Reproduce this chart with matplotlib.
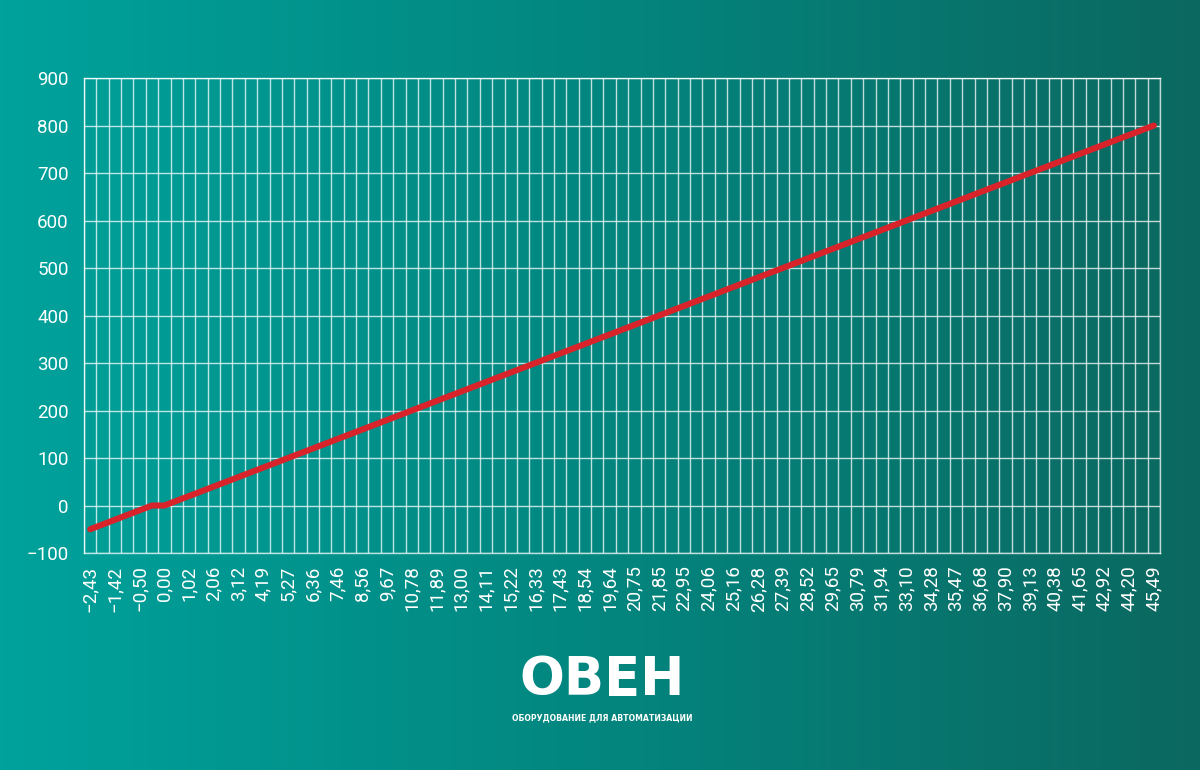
import numpy as np
import matplotlib
matplotlib.use("Agg")
import matplotlib.pyplot as plt
from matplotlib import font_manager
from matplotlib.colors import LinearSegmentedColormap

# thermocouple table: emf (mV) on the category axis, temperature on y
mv = [-2.43, -1.96, -1.42, -1.00, -0.50, 0.00, 0.00, 0.51, 1.02, 1.54,
      2.06, 2.59, 3.12, 3.65, 4.19, 4.73, 5.27, 5.81, 6.36, 6.91,
      7.46, 8.01, 8.56, 9.11, 9.67, 10.22, 10.78, 11.33, 11.89, 12.44,
      13.00, 13.55, 14.11, 14.66, 15.22, 15.77, 16.33, 16.88, 17.43, 17.98,
      18.54, 19.09, 19.64, 20.19, 20.75, 21.30, 21.85, 22.40, 22.95, 23.50,
      24.06, 24.61, 25.16, 25.72, 26.28, 26.83, 27.39, 27.95, 28.52, 29.08,
      29.65, 30.22, 30.79, 31.36, 31.94, 32.52, 33.10, 33.69, 34.28, 34.87,
      35.47, 36.07, 36.68, 37.28, 37.90, 38.51, 39.13, 39.75, 40.38, 41.01,
      41.65, 42.28, 42.92, 43.56, 44.20, 44.85, 45.49]
temp = [-50, -40, -30, -20, -10, 0, 0, 10, 20, 30,
        40, 50, 60, 70, 80, 90, 100, 110, 120, 130,
        140, 150, 160, 170, 180, 190, 200, 210, 220, 230,
        240, 250, 260, 270, 280, 290, 300, 310, 320, 330,
        340, 350, 360, 370, 380, 390, 400, 410, 420, 430,
        440, 450, 460, 470, 480, 490, 500, 510, 520, 530,
        540, 550, 560, 570, 580, 590, 600, 610, 620, 630,
        640, 650, 660, 670, 680, 690, 700, 710, 720, 730,
        740, 750, 760, 770, 780, 790, 800]
y_ticks = [-100, 0, 100, 200, 300, 400, 500, 600, 700, 800, 900]

installed = {f.name for f in font_manager.fontManager.ttflist}
fam = "Liberation Sans Narrow" if "Liberation Sans Narrow" in installed else "Roboto"
plt.rcParams['font.family'] = [fam, 'DejaVu Sans']

def fmt(v):
    s = "{:.2f}".format(abs(v)).replace(".", ",")
    return ("\u2212" + s) if v < 0 else s

fig = plt.figure(figsize=(12, 7.7), dpi=100)

# background gradient
bg = fig.add_axes([0, 0, 1, 1])
cmap = LinearSegmentedColormap.from_list("bg", ["#00a29c", "#03867f", "#0b6860"])
grad = np.linspace(0, 1, 256).reshape(1, -1)
bg.imshow(grad, aspect="auto", cmap=cmap, extent=[0, 1, 0, 1])
bg.axis("off")

ax = fig.add_axes([0.07, 0.2818, 0.8967, 0.6169])
ax.patch.set_alpha(0)
n = len(mv)
x = np.arange(n)

grid_c = (1, 1, 1, 0.75)
for b in np.arange(n + 1) - 0.5:
    ax.axvline(b, color=grid_c, lw=1, zorder=1)
for yv in y_ticks:
    ax.axhline(yv, color=grid_c, lw=1, zorder=1)

ax.plot(x, temp, color="#d9232a", lw=4.4, solid_capstyle="round",
        solid_joinstyle="round", zorder=3)

ax.set_xlim(-0.5, n - 0.5)
ax.set_ylim(-100, 900)
ax.set_yticks(y_ticks)
ax.set_yticklabels([fmt(v).replace(",00", "") for v in y_ticks])
ax.set_xticks(x[::2])
ax.set_xticklabels([fmt(v) for v in mv[::2]], rotation=90)
ax.tick_params(axis="both", length=0, colors="white", labelsize=13.5)
ax.tick_params(axis="x", pad=9)
ax.tick_params(axis="y", pad=11)
for s in ax.spines.values():
    s.set_color(grid_c)
    s.set_linewidth(1)

# logo
fig.text(0.5017, 0.0975, "ОВЕН", color="white", fontsize=38, fontweight="bold",
         family=["DejaVu Sans"], ha="center", va="baseline")
fig.text(0.5017, 0.064, "ОБОРУДОВАНИЕ ДЛЯ АВТОМАТИЗАЦИИ", color="white", fontsize=5.6,
         fontweight="bold", family=["DejaVu Sans"], ha="center", va="baseline")

fig.savefig("out.png", dpi=100)
